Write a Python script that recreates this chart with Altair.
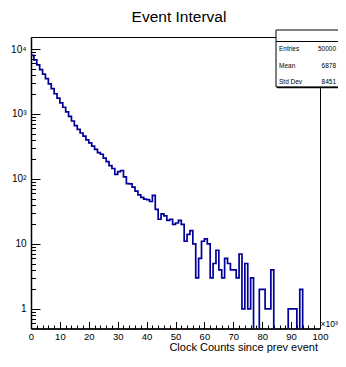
import altair as alt
import pandas as pd

# ---- data (bin width 1 x10^3 clock counts) ----
bin_low = list(range(0, 100))
counts = [
    8000, 6800, 5700, 4800, 4100, 3500, 2900, 2450, 2050, 1750,
    1480, 1270, 1080, 920, 780, 660, 580, 510, 455, 400,
    360, 320, 285, 255, 240, 210, 185, 160, 145, 118,
    130, 135, 108, 85, 84, 75, 65, 57, 52, 49,
    48, 45, 56, 34, 24, 29, 27, 23, 24, 20,
    21, 23, 20, 11, 14, 16, 10, 3, 6, 11,
    12, 10, 3, 5, 8, 4, 3, 6, 5, 4,
    4, 3, 7, 1, 5, 1, 3, 0, 0, 2,
    2, 1, 1, 4, 0, 0, 0, 0, 0, 1,
    1, 1, 0, 2, 0, 0, 0, 0, 0, 0,
]
stat_names = ["Entries", "Mean", "Std Dev"]
stat_values = ["50000", "6878", "8451"]
x_major = [0, 10, 20, 30, 40, 50, 60, 70, 80, 90, 100]
x_minor = list(range(0, 101, 2))
y_major = [1, 10, 100, 1000, 10000]
y_major_text = ["1", "10", "10²", "10³", "10⁴"]
y_minor = [0.6, 0.7, 0.8, 0.9, 2, 3, 4, 5, 6, 7, 8, 9,
           20, 30, 40, 50, 60, 70, 80, 90,
           200, 300, 400, 500, 600, 700, 800, 900,
           2000, 3000, 4000, 5000, 6000, 7000, 8000, 9000]

W, H = 289, 291.5
FONT = "Liberation Sans"
LINE = "#000099"

df = pd.DataFrame({"x": bin_low + [100], "n": counts + [counts[-1]]})

xs = alt.Scale(domain=[0, 100], nice=False, zero=False)
ys = alt.Scale(type="log", domain=[0.5, 15300], nice=False)

label_expr = " : ".join(
    f"datum.value == {v} ? '{t}'" for v, t in zip(y_major[::-1], y_major_text[::-1])
) + " : ''"

base = alt.Chart(df).transform_calculate(ny="datum.n > 0 ? datum.n : 0.2")

ax_x = alt.Axis(orient="bottom", values=x_major, ticks=False, domain=True,
                domainColor="black", domainWidth=1.5, labelFont=FONT,
                labelFontSize=9.5, labelColor="black", labelPadding=2.5,
                grid=False, title=None, labelFlush=False, labelOverlap=False)
ax_y = alt.Axis(orient="left", values=y_major, labelExpr=label_expr, ticks=False,
                domain=True, domainColor="black", domainWidth=1.5, labelFont=FONT,
                labelFontSize=10, labelColor="black", labelPadding=5,
                grid=False, title=None, labelOverlap=False, labelBaseline="middle")

hist = base.mark_line(interpolate="step-after", color=LINE, strokeWidth=1.7,
                      clip=True).encode(
    x=alt.X("x:Q", scale=xs, axis=ax_x),
    y=alt.Y("ny:Q", scale=ys, axis=ax_y),
)


def tick_layer(xaxis, yaxis):
    return base.mark_point(opacity=0).encode(
        x=alt.X("x:Q", scale=xs, axis=xaxis),
        y=alt.Y("ny:Q", scale=ys, axis=yaxis),
    )


def tick_axis(orient, vals, size):
    return alt.Axis(orient=orient, values=vals, offset=-size, tickSize=size,
                    tickColor="black", tickWidth=1, labels=False, domain=False,
                    grid=False, title=None)


t_xmaj = tick_layer(tick_axis("bottom", x_major, 7), None)
t_xmin = tick_layer(tick_axis("bottom", x_minor, 3.5), None)
t_ymaj = tick_layer(None, tick_axis("left", y_major, 9))
t_ymin = tick_layer(None, tick_axis("left", y_minor, 4.5))

one = pd.DataFrame({"k": [0]})
title = alt.Chart(one).mark_text(text="Event Interval", font=FONT, fontSize=15.5,
                                 align="center", baseline="alphabetic",
                                 color="black").encode(
    x=alt.value(148), y=alt.value(-15.5))
xtitle = alt.Chart(one).mark_text(text="Clock Counts since prev event", font=FONT,
                                  fontSize=11, align="right", baseline="alphabetic",
                                  color="black").encode(
    x=alt.value(287), y=alt.value(314))
xexp = alt.Chart(one).mark_text(text="×10³", font=FONT, fontSize=8.5, align="left",
                                baseline="alphabetic", color="black").encode(
    x=alt.value(289.5), y=alt.value(290))

box = alt.Chart(one).mark_rect(fill="white", stroke="black", strokeWidth=1).encode(
    x=alt.value(245), x2=alt.value(312), y=alt.value(-7), y2=alt.value(50))
sep = alt.Chart(one).mark_rule(color="black", strokeWidth=1).encode(
    x=alt.value(245), x2=alt.value(312), y=alt.value(4.5))
shadow = alt.Chart(one).mark_rule(color="black", strokeWidth=1.5).encode(
    x=alt.value(246), x2=alt.value(312), y=alt.value(50.5))

rows = []
row_y = [14, 30.5, 47]
for name, val, yy in zip(stat_names, stat_values, row_y):
    rows.append(alt.Chart(one).mark_text(text=name, font=FONT, fontSize=6.5,
                                         align="left", baseline="alphabetic",
                                         color="black").encode(
        x=alt.value(248), y=alt.value(yy)))
    rows.append(alt.Chart(one).mark_text(text=val, font=FONT, fontSize=6.5,
                                         align="right", baseline="alphabetic",
                                         color="black").encode(
        x=alt.value(305), y=alt.value(yy)))

chart = alt.layer(
    t_xmaj, t_xmin, t_ymaj, t_ymin, hist, title, xtitle, xexp, box, sep, shadow, *rows
).resolve_axis(x="independent", y="independent").properties(
    width=W, height=H,
    autosize=alt.AutoSizeParams(type="none"),
    padding={"left": 23, "top": 29, "right": 18, "bottom": 25.5},
    background="white",
).configure_view(stroke="black", strokeWidth=1)

chart.save("out.html", embed_options={"renderer": "svg", "actions": False})
